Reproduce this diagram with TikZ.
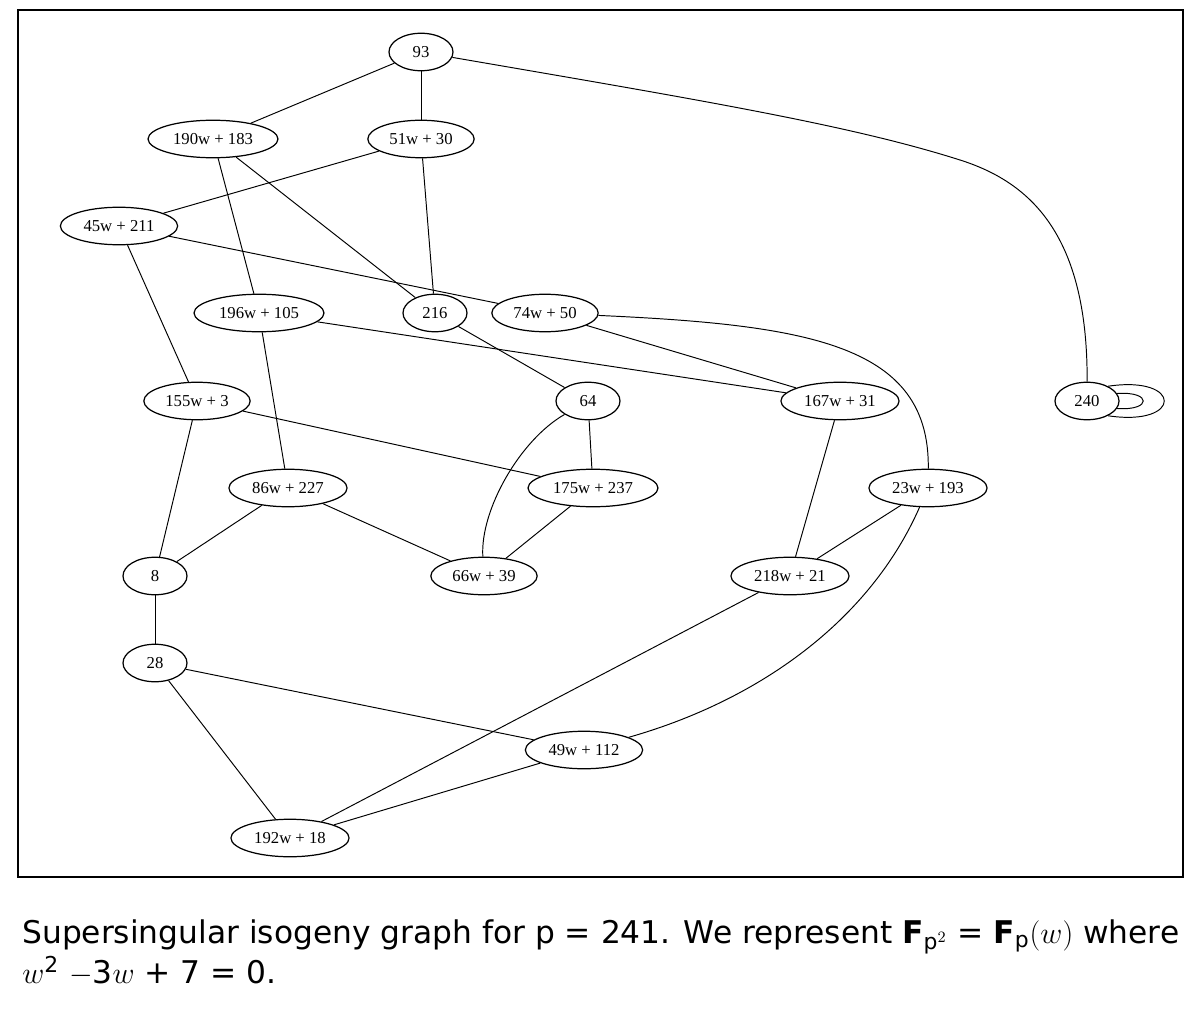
\documentclass[tikz,border=0pt]{standalone}
\usepackage{amsmath}
\usepackage{fontspec}
\setmainfont{Liberation Serif}
\newfontfamily\capfont{DejaVu Sans}
\usetikzlibrary{shapes.geometric}

\begin{document}
\begin{tikzpicture}[x=0.02cm,
			y=-0.02cm,
			vert/.style={ellipse, draw, line width=0.7pt, inner xsep=0.12cm, inner ysep=0.1cm,
				minimum width=1.28cm, minimum height=0.75cm,
				font=\fontsize{9.5}{10}\selectfont},
			edge/.style={line width=0.55pt}]
			\useasboundingbox (0,0) rectangle (1200,1010);
			\draw[line width=1.2pt] (18,10) rectangle (1183,877);
			\node at (421,52) (j93) [vert] {93};
			\node at (213,139) (j190) [vert] {190w + 183};
			\node at (421,139) (j51) [vert] {51w + 30};
			\node at (119,226) (j45) [vert] {45w + 211};
			\node at (259,313) (j196) [vert] {196w + 105};
			\node at (435,313) (j216) [vert] {216};
			\node at (545,313) (j74) [vert] {74w + 50};
			\node at (197,401) (j155) [vert] {155w + 3};
			\node at (588,401) (j64) [vert] {64};
			\node at (840,401) (j167) [vert] {167w + 31};
			\node at (1087,401) (j240) [vert] {240};
			\node at (288,488) (j86) [vert] {86w + 227};
			\node at (593,488) (j175) [vert] {175w + 237};
			\node at (928,488) (j23) [vert] {23w + 193};
			\node at (155,576) (j8) [vert] {8};
			\node at (484,576) (j66) [vert] {66w + 39};
			\node at (790,576) (j218) [vert] {218w + 21};
			\node at (155,663) (j28) [vert] {28};
			\node at (584,750) (j49) [vert] {49w + 112};
			\node at (290,838) (j192) [vert] {192w + 18};
			\draw[edge] (j93) -- (j190);
			\draw[edge] (j93) -- (j51);
			\draw[edge] (j93) .. controls (700,100) and (850,125) .. (960,160)
				.. controls (1026,181) and (1088,230) .. (j240);
			\draw[edge] (j240.35) .. controls (1183,375) and (1183,427) .. (j240.-35);
			\draw[edge] (j240.14) .. controls (1152,391) and (1152,411) .. (j240.-14);
			\draw[edge] (j190) -- (j196);
			\draw[edge] (j190) -- (j216);
			\draw[edge] (j51) -- (j45);
			\draw[edge] (j51) -- (j216);
			\draw[edge] (j45) -- (j74);
			\draw[edge] (j45) -- (j155);
			\draw[edge] (j196) -- (j86);
			\draw[edge] (j196) -- (j167);
			\draw[edge] (j216) -- (j64);
			\draw[edge] (j74) -- (j167);
			\draw[edge] (j74) .. controls (810,325) and (930,345) .. (j23);
			\draw[edge] (j155) -- (j175);
			\draw[edge] (j155) -- (j8);
			\draw[edge] (j64) .. controls (520,440) and (480,510) .. (j66);
			\draw[edge] (j64) -- (j175);
			\draw[edge] (j86) -- (j8);
			\draw[edge] (j86) -- (j66);
			\draw[edge] (j175) -- (j66);
			\draw[edge] (j167) -- (j218);
			\draw[edge] (j23) -- (j218);
			\draw[edge] (j23) .. controls (870,620) and (760,700) .. (j49);
			\draw[edge] (j8) -- (j28);
			\draw[edge] (j28) -- (j49);
			\draw[edge] (j28) -- (j192);
			\draw[edge] (j218) -- (j192);
			\draw[edge] (j49) -- (j192);
			\node at (22,919) (caption) [inner sep=0pt, anchor=north west, align=left,
				font=\capfont\fontsize{17.8}{21.5}\selectfont]
				{Supersingular isogeny graph for p = 241. We represent $\textbf{F}_{\text{p}^{2}}$ = $\textbf{F}_{\text{p}}(w)$ where\\
				$w$\textsuperscript{2} $-$3$w$ + 7 = 0.};
		\end{tikzpicture}
\end{document}
